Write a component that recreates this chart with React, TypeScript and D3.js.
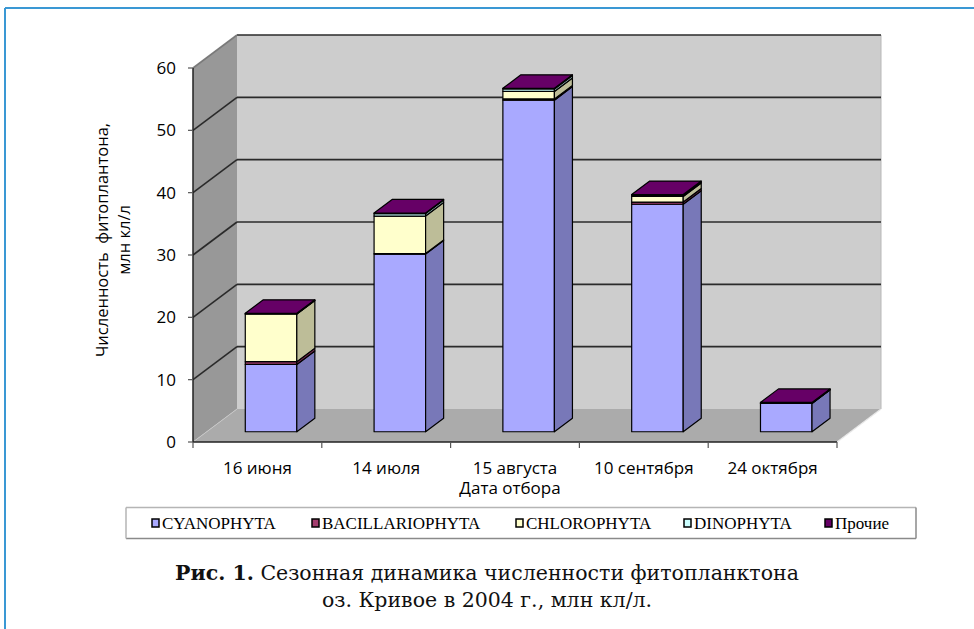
import React from "react";
import * as d3 from "d3";

const categories = ["16 июня", "14 июля", "15 августа", "10 сентября", "24 октября"];
const seriesNames = ["CYANOPHYTA", "BACILLARIOPHYTA", "CHLOROPHYTA", "DINOPHYTA", "Прочие"];
const cyanophyta = [10.8, 28.5, 53.2, 36.5, 4.55];
const bacillariophyta = [0.45, 0.1, 0.2, 0.35, 0.03];
const chlorophyta = [7.65, 6.0, 1.2, 0.9, 0.03];
const dinophyta = [0.0, 0.4, 0.4, 0.1, 0.0];
const prochie = [0.1, 0.1, 0.1, 0.2, 0.1];
const yTicks = [0, 10, 20, 30, 40, 50, 60];

const frontColors = ["#a9a9ff", "#a33d6e", "#ffffcc", "#ccffff", "#660066"];
const sideColors = ["#7878b8", "#74294e", "#bdbd98", "#93b8b8", "#480048"];
const legendX = [152, 312, 516, 684, 825];

const X0 = 193, X1 = 837, Y0 = 442, Y1 = 68;
const DX = 44, DY = -33;
const BAR_D0 = 0.31, BAR_D1 = 0.72;

export default function App() {
  const x = d3.scaleBand<string>().domain(categories).range([X0, X1]).paddingInner(0).paddingOuter(0);
  const y = d3.scaleLinear().domain([0, 60]).range([Y0, Y1]);
  const series = [cyanophyta, bacillariophyta, chlorophyta, dinophyta, prochie];
  const table = categories.map((c, i) => {
    const o: any = { cat: c };
    seriesNames.forEach((s, k) => (o[s] = series[k][i]));
    return o;
  });
  const stacked = d3.stack().keys(seriesNames)(table as any);
  const bw = x.bandwidth() * 0.4;
  const P = (px: number, py: number, d: number) => [px + d * DX, py + d * DY];
  const pts = (a: number[][]) => a.map((p) => p.join(",")).join(" ");

  const bars: any[] = [];
  categories.forEach((c, i) => {
    const cx = (x(c) as number) + x.bandwidth() / 2;
    const xl = cx - bw / 2, xr = cx + bw / 2;
    stacked.forEach((layer, k) => {
      const [v0, v1] = layer[i];
      const yb = y(v0), yt = y(v1);
      const front = [P(xl, yb, BAR_D0), P(xr, yb, BAR_D0), P(xr, yt, BAR_D0), P(xl, yt, BAR_D0)];
      const side = [P(xr, yb, BAR_D0), P(xr, yb, BAR_D1), P(xr, yt, BAR_D1), P(xr, yt, BAR_D0)];
      bars.push(<polygon key={`f${i}${k}`} points={pts(front)} fill={frontColors[k]} stroke="#000" strokeWidth={1.2} strokeLinejoin="round" />);
      bars.push(<polygon key={`s${i}${k}`} points={pts(side)} fill={sideColors[k]} stroke="#000" strokeWidth={1.2} strokeLinejoin="round" />);
      if (k === stacked.length - 1) {
        const top = [P(xl, yt, BAR_D0), P(xr, yt, BAR_D0), P(xr, yt, BAR_D1), P(xl, yt, BAR_D1)];
        bars.push(<polygon key={`t${i}`} points={pts(top)} fill={frontColors[k]} stroke="#000" strokeWidth={1.2} strokeLinejoin="round" />);
      }
    });
  });

  const sans = "'Open Sans', 'Noto Sans', sans-serif";
  const serif = "'Liberation Serif', 'DejaVu Serif', serif";
  const capSerif = "'DejaVu Serif', serif";

  return (
    <svg width={974} height={629} style={{ position: "absolute", left: 0, top: 0, background: "#fff" }}>
      <line x1={5} y1={8} x2={974} y2={8} stroke="#3a98d4" strokeWidth={2} />
      <line x1={5} y1={8} x2={5} y2={629} stroke="#3a98d4" strokeWidth={2} />

      {/* back wall */}
      <rect x={X0 + DX} y={Y1 + DY} width={X1 - X0} height={Y0 - Y1} fill="#cdcdcd" />
      {/* side wall */}
      <polygon points={pts([[X0, Y0], [X0 + DX, Y0 + DY], [X0 + DX, Y1 + DY], [X0, Y1]])} fill="#989898" />
      {/* floor */}
      <polygon points={pts([[X0, Y0], [X1, Y0], [X1 + DX, Y0 + DY], [X0 + DX, Y0 + DY]])} fill="#ababab" />
      <line x1={X1} y1={Y0} x2={X1 + DX} y2={Y0 + DY} stroke="#e8e8e8" strokeWidth={1.2} />
      <line x1={X1 + DX} y1={Y0 + DY} x2={X1 + DX} y2={Y1 + DY} stroke="#b8b8b8" strokeWidth={1} />
      <line x1={X0} y1={Y0} x2={X0 + DX} y2={Y0 + DY} stroke="#c8c8c8" strokeWidth={1} />

      {/* gridlines */}
      {yTicks.filter((t) => t > 0).map((t) => (
        <g key={`g${t}`}>
          <line x1={X0 + DX} y1={y(t) + DY} x2={X1 + DX} y2={y(t) + DY} stroke="#2a2a2a" strokeWidth={1.6} />
          <line x1={X0} y1={y(t)} x2={X0 + DX} y2={y(t) + DY} stroke={t === 60 ? "#7a7a7a" : "#2a2a2a"} strokeWidth={1.6} />
        </g>
      ))}

      {/* axes */}
      <line x1={X0} y1={Y1} x2={X0} y2={Y0} stroke="#222" strokeWidth={1.5} />
      <line x1={X0} y1={Y0} x2={X1} y2={Y0} stroke="#222" strokeWidth={1.5} />
      {yTicks.map((t) => (
        <g key={`yt${t}`}>
          <line x1={X0 - 5} y1={y(t)} x2={X0} y2={y(t)} stroke="#555" strokeWidth={1.2} />
          <text x={X0 - 17} y={y(t)} dy="0.36em" textAnchor="end" fontFamily={sans} fontSize={17} fill="#000">{t}</text>
        </g>
      ))}
      {[...categories.map((c) => x(c) as number), X1].map((tx, i) => (
        <line key={`xt${i}`} x1={tx} y1={Y0} x2={tx} y2={Y0 + 6} stroke="#555" strokeWidth={1.2} />
      ))}
      {categories.map((c) => (
        <text key={`xl${c}`} x={(x(c) as number) + x.bandwidth() / 2} y={474} textAnchor="middle" fontFamily={sans} fontSize={17} fill="#000">{c}</text>
      ))}
      <text x={510} y={494} textAnchor="middle" fontFamily={sans} fontSize={17} fill="#000">Дата отбора</text>
      <text transform="translate(108,240) rotate(-90)" textAnchor="middle" fontFamily={sans} fontSize={16.5} fill="#000" style={{ whiteSpace: "pre" }}>
        {"Численность  фитоплантона,"}
      </text>
      <text transform="translate(130,240) rotate(-90)" textAnchor="middle" fontFamily={sans} fontSize={16.5} fill="#000">млн кл/л</text>

      {bars}

      {/* legend */}
      <line x1={126} y1={507.5} x2={916} y2={507.5} stroke="#b5b5b5" strokeWidth={1.5} />
      <line x1={126} y1={538.5} x2={916} y2={538.5} stroke="#8a8a8a" strokeWidth={1.5} />
      <line x1={126} y1={507.5} x2={126} y2={538.5} stroke="#b5b5b5" strokeWidth={1.5} />
      <line x1={916} y1={507.5} x2={916} y2={538.5} stroke="#8a8a8a" strokeWidth={1.5} />
      {seriesNames.map((s, k) => (
        <g key={`lg${s}`}>
          <rect x={legendX[k]} y={519} width={7} height={8} fill={frontColors[k]} stroke="#000" strokeWidth={1.5} />
          <text x={legendX[k] + 10} y={529} fontFamily={serif} fontSize={17} fill="#000">{s}</text>
        </g>
      ))}

      {/* caption */}
      <text x={487} y={580} textAnchor="middle" fontFamily={capSerif} fontSize={20.5} fill="#111">
        <tspan fontWeight="bold">Рис. 1.</tspan> Сезонная динамика численности фитопланктона
      </text>
      <text x={487} y={607} textAnchor="middle" fontFamily={capSerif} fontSize={20.5} fill="#111">оз. Кривое в 2004 г., млн кл/л.</text>
    </svg>
  );
}
